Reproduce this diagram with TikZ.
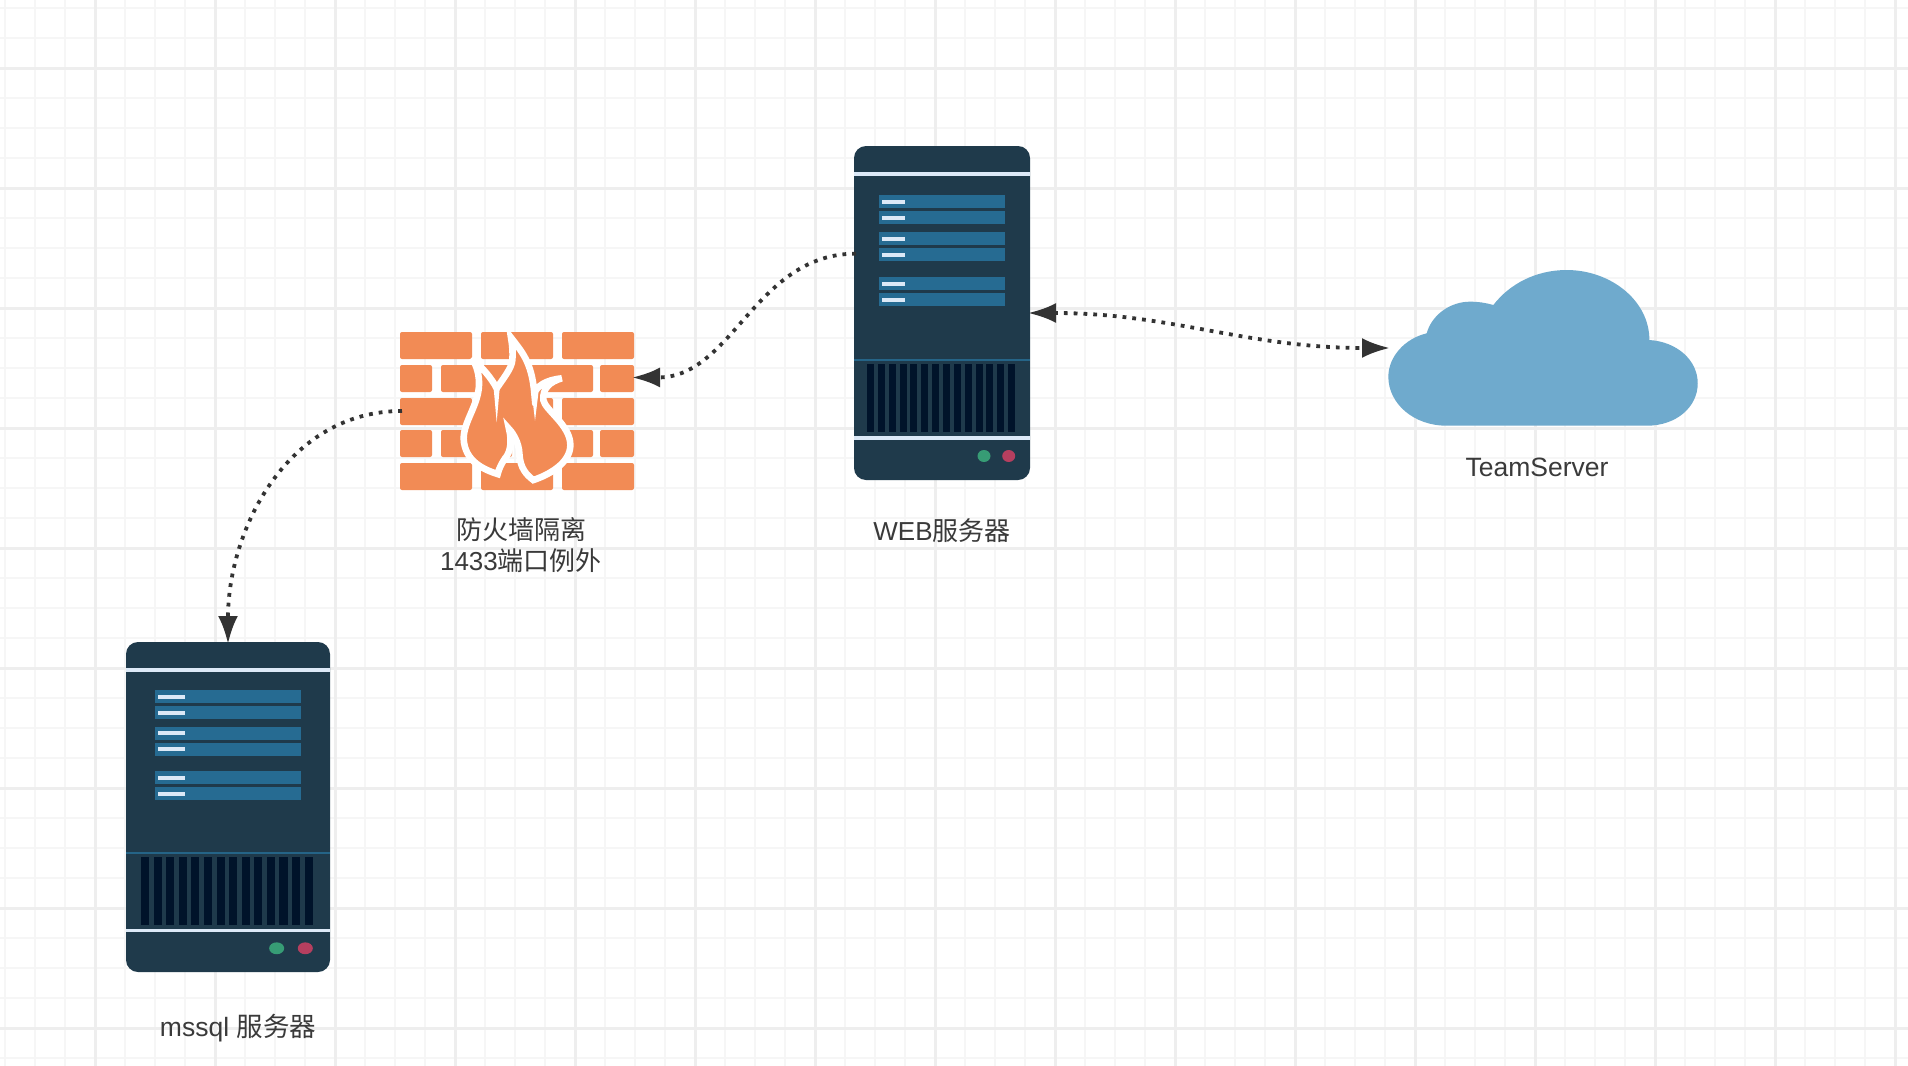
\documentclass[tikz,border=0pt]{standalone}
\usepackage{fontspec}
\setmainfont{Liberation Sans}
\newfontfamily\cjk{Noto Sans CJK SC}
\usetikzlibrary{arrows.meta}
\definecolor{gridminor}{HTML}{F6F6F6}
\definecolor{gridmajor}{HTML}{EEEEEE}
\definecolor{serverdark}{HTML}{1F3A4B}
\definecolor{serverboard}{HTML}{266B92}
\definecolor{serverband}{HTML}{DCE9F7}
\definecolor{serverslat}{HTML}{00132A}
\definecolor{lampgreen}{HTML}{379C75}
\definecolor{lampred}{HTML}{B63F5F}
\definecolor{brick}{HTML}{F28B55}
\definecolor{cloudblue}{HTML}{6FAACD}
\definecolor{inktext}{HTML}{3A3A3A}
\definecolor{inkline}{HTML}{333333}
\tikzset{
    serverbody/.style = {fill=serverdark, rounded corners=6pt, inner sep=0pt, outer sep=0pt},
    hitbox/.style = {inner sep=0pt, outer sep=0pt},
    caption/.style = {text=inktext, align=center, font=\fontsize{13}{15.5}\selectfont},
    widecaption/.style = {caption, font=\fontsize{13.25}{15.5}\selectfont},
    dotarrow/.style = {draw=inkline, line width=1.9pt, dash pattern=on 1.9pt off 3pt, shorten >=-1pt, shorten <=-1pt},
    bigtip/.tip = {Latex[length=14pt,width=10pt]},
    bricktile/.style = {fill=brick, rounded corners=1pt},
    pics/serverparts/.style = {code = {
        \fill[serverband] (0,26) rectangle (176,30);
        \fill[serverband] (0,290) rectangle (176,294);
        \fill[serverboard!85!serverdark] (0,213) rectangle (176,215);
        \foreach \y in {49,65,86,102,131,147} {
            \fill[serverboard] (25,\y) rectangle (151,\y+13);
            \fill[serverband] (28,\y+4.5) rectangle (51,\y+8.5);
        }
        \foreach \i in {0,...,13}
            \fill[serverslat] (13+10.85*\i,218) rectangle (20+10.85*\i,286);
        \fill[lampgreen] (130,310) ellipse [x radius=6.5, y radius=6];
        \fill[lampred] (154.7,310) ellipse [x radius=6.5, y radius=6];
    }}
}
\begin{document}
\begin{tikzpicture}[x=0.5pt, y=-0.5pt]
    \useasboundingbox (0,0) rectangle (1908,1066);
    \fill[white] (0,0) rectangle (1908,1066);
    % background grid
    \foreach \x in {5,35,...,1905}
        \draw[gridminor, line width=1.4pt] (\x,0) -- (\x,1066);
    \foreach \y in {8,38,...,1058}
        \draw[gridminor, line width=1.4pt] (0,\y) -- (1908,\y);
    \foreach \x in {95,215,...,1895}
        \draw[gridmajor, line width=1.5pt] (\x,0) -- (\x,1066);
    \foreach \y in {68,188,...,1028}
        \draw[gridmajor, line width=1.5pt] (0,\y) -- (1908,\y);

    % servers
    \node[serverbody, minimum width=88pt, minimum height=167pt] (web) at (942,313) {};
    \pic at (854,146) {serverparts};
    \node[serverbody, minimum width=102pt, minimum height=165pt] (mssql) at (228,807) {};
    \pic[xscale=1.159, yscale=0.988] at (126,642) {serverparts};

    % firewall
    \node[hitbox, minimum width=117pt, minimum height=79pt] (firewall) at (517,411) {};
    \foreach \y in {332,463} {
        \fill[bricktile] (400,\y) rectangle (472,\y+27);
        \fill[bricktile] (481,\y) rectangle (553,\y+27);
        \fill[bricktile] (562,\y) rectangle (634,\y+27);
    }
    \foreach \y in {365,430} {
        \fill[bricktile] (400,\y) rectangle (432,\y+27);
        \fill[bricktile] (441,\y) rectangle (512,\y+27);
        \fill[bricktile] (521,\y) rectangle (593,\y+27);
        \fill[bricktile] (600,\y) rectangle (634,\y+27);
    }
    \fill[bricktile] (400,398) rectangle (472,425);
    \fill[bricktile] (481,398) rectangle (553,425);
    \fill[bricktile] (562,398) rectangle (634,425);
    \begin{scope}[shift={(455,325)}, x=0.1667pt, y=-0.1667pt]
        \filldraw[fill=brick, draw=white, line width=3.3pt, miter limit=5]
            (128,447) .. controls (90,435) and (28,410) .. (26,340)
            .. controls (26,290) and (70,240) .. (72,180)
            .. controls (73,150) and (65,120) .. (50,100)
            .. controls (80,125) and (110,160) .. (125,190)
            .. controls (145,160) and (170,130) .. (172,105)
            .. controls (174,85) and (172,60) .. (168,38)
            .. controls (200,80) and (230,110) .. (238,205)
            .. controls (245,185) and (270,165) .. (320,160)
            .. controls (285,170) and (262,190) .. (265,225)
            .. controls (270,255) and (346,300) .. (346,360)
            .. controls (346,415) and (280,450) .. (235,465)
            .. controls (215,450) and (195,430) .. (193,385)
            .. controls (192,355) and (175,325) .. (162,312)
            .. controls (172,350) and (165,385) .. (150,400)
            .. controls (140,415) and (132,430) .. (128,447) -- cycle;
        \fill[white] (116,190) -- (134,190) -- (125,292) -- cycle;
        \fill[white] (229,195) -- (250,205) -- (240,287) -- cycle;
    \end{scope}

    % cloud
    \node[hitbox, minimum width=155pt, minimum height=78pt] (cloud) at (1543,348) {};
    \begin{scope}[shift={(1370,250)}, x=0.1667pt, y=-0.1667pt]
        \fill[cloudblue] (230,527) -- (830,527)
            .. controls (920,527) and (983,470) .. (983,400)
            .. controls (983,330) and (920,275) .. (838,270)
            .. controls (838,150) and (720,60) .. (590,60)
            .. controls (500,60) and (420,100) .. (370,165)
            .. controls (345,158) and (325,155) .. (300,155)
            .. controls (240,155) and (185,195) .. (170,250)
            .. controls (105,265) and (55,320) .. (55,380)
            .. controls (55,460) and (130,527) .. (230,527) -- cycle;
    \end{scope}

    % labels
    \node[caption] (webtext) at (942,531) {WEB{\cjk 服务器}};
    \node[widecaption] (mssqltext) at (238,1028) {mssql {\cjk 服务器}};
    \node[caption] (firewalltext) at (521,545) {{\cjk 防火墙隔离}\\1433{\cjk 端口例外}};
    \node[widecaption] (cloudtext) at (1537,467) {TeamServer};

    % connectors
    \draw[dotarrow, -bigtip] (web.146) to[out=180, in=0] (firewall.16.7);
    \draw[dotarrow, -bigtip] (firewall.west) to[out=180, in=90] (mssql.north);
    \draw[dotarrow, bigtip-bigtip] (web.east) to[out=0, in=180] (cloud.west);
\end{tikzpicture}
\end{document}
